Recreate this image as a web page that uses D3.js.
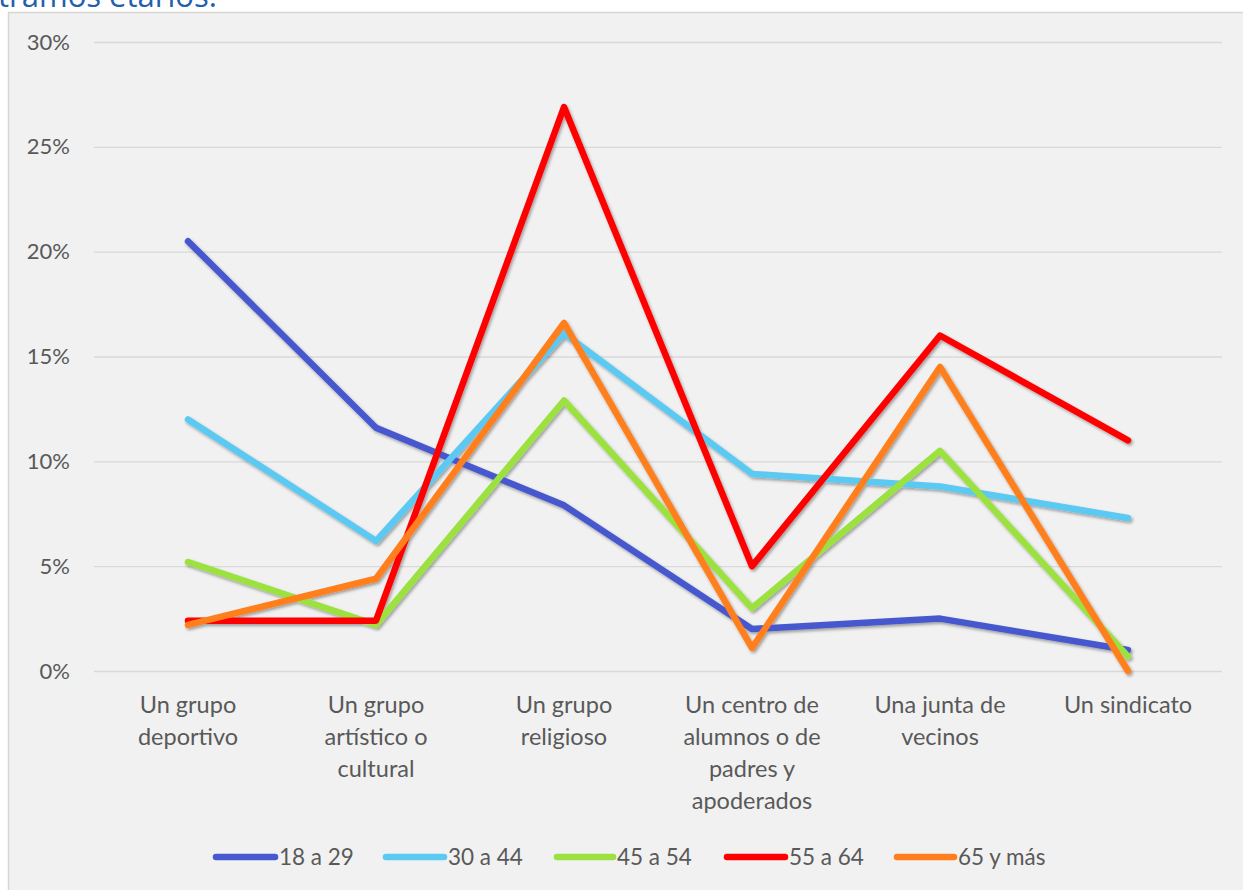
<!DOCTYPE html>
<html>
<head>
<meta charset="utf-8">
<script src="https://cdn.jsdelivr.net/npm/d3@7"></script>
<style>
  html, body { margin: 0; padding: 0; background: #ffffff; }
  svg { display: block; }
</style>
</head>
<body>
<svg id="chart" width="1243" height="890"></svg>
<script>
// Participation by type of organisation and age group (share of respondents)
const categories = [
  ["Un grupo", "deportivo"],
  ["Un grupo", "artístico o", "cultural"],
  ["Un grupo", "religioso"],
  ["Un centro de", "alumnos o de", "padres y", "apoderados"],
  ["Una junta de", "vecinos"],
  ["Un sindicato"]
];
const seriesNames = ["18 a 29", "30 a 44", "45 a 54", "55 a 64", "65 y más"];
const seriesColors = ["#4659cf", "#5bc9f2", "#9be13f", "#ff0000", "#ff7f1e"];
const v18a29 = [20.5, 11.6, 7.9, 2.0, 2.5, 1.0];
const v30a44 = [12.0, 6.2, 16.1, 9.4, 8.8, 7.3];
const v45a54 = [5.2, 2.2, 12.9, 3.0, 10.5, 0.7];
const v55a64 = [2.4, 2.4, 26.9, 5.0, 16.0, 11.0];
const v65mas = [2.2, 4.4, 16.6, 1.1, 14.5, 0.0];
const seriesValues = [v18a29, v30a44, v45a54, v55a64, v65mas];
const yTicks = [0, 5, 10, 15, 20, 25, 30];

const svg = d3.select("#chart");
const W = 1243, H = 890;
const font = "Lato, 'Open Sans', sans-serif";
const textGray = "#595959";

// heading text running off the top edge
svg.append("text")
  .attr("x", -2).attr("y", 7)
  .attr("font-family", "'Open Sans', sans-serif")
  .attr("font-size", 31)
  .attr("fill", "#2160ab")
  .text("tramos etarios.");

// chart panel
svg.append("rect")
  .attr("x", 8.5).attr("y", 12.5)
  .attr("width", W + 10).attr("height", H + 10)
  .attr("fill", "#f1f1f1")
  .attr("stroke", "#d6d6d6")
  .attr("stroke-width", 1.5);

const plot = { left: 94, right: 1222, top: 42, bottom: 671 };

const x = d3.scaleBand()
  .domain(d3.range(categories.length))
  .range([plot.left, plot.right]);
const xc = i => x(i) + x.bandwidth() / 2;

const y = d3.scaleLinear()
  .domain([0, 30])
  .range([plot.bottom, plot.top]);

// gridlines and y labels
const yAxis = d3.axisLeft(y)
  .tickValues(yTicks)
  .tickSize(-(plot.right - plot.left))
  .tickPadding(24)
  .tickFormat(d => d + "%");
const gy = svg.append("g")
  .attr("transform", `translate(${plot.left},0)`)
  .call(yAxis);
gy.select(".domain").remove();
gy.selectAll(".tick line").attr("stroke", "#d9d9d9").attr("stroke-width", 1.3);
gy.selectAll(".tick text")
  .attr("font-family", font)
  .attr("font-size", 22)
  .attr("fill", textGray);

// category labels
const xAxis = svg.append("g");
categories.forEach((lines, i) => {
  const t = xAxis.append("text")
    .attr("text-anchor", "middle")
    .attr("font-family", font)
    .attr("font-size", 23.5)
    .attr("fill", textGray);
  lines.forEach((ln, k) => {
    t.append("tspan")
      .attr("x", xc(i))
      .attr("y", 713 + k * 32)
      .text(ln);
  });
});

// soft shadow under the lines
const defs = svg.append("defs");
const f = defs.append("filter").attr("id", "shadow")
  .attr("x", "-10%").attr("y", "-10%").attr("width", "120%").attr("height", "120%");
f.append("feDropShadow")
  .attr("dx", 1.5).attr("dy", 2)
  .attr("stdDeviation", 1.6)
  .attr("flood-color", "#000").attr("flood-opacity", 0.35);

const line = d3.line()
  .x((d, i) => xc(i))
  .y(d => y(d));

const lines = svg.append("g").attr("filter", "url(#shadow)");
seriesValues.forEach((vals, s) => {
  lines.append("path")
    .datum(vals)
    .attr("d", line)
    .attr("fill", "none")
    .attr("stroke", seriesColors[s])
    .attr("stroke-width", 6.5)
    .attr("stroke-linejoin", "round")
    .attr("stroke-linecap", "round");
});

// legend
const legendItems = [
  { x0: 216, x1: 275 },
  { x0: 386, x1: 444 },
  { x0: 557, x1: 613 },
  { x0: 727, x1: 785 },
  { x0: 897, x1: 954 }
];
const legend = svg.append("g");
seriesNames.forEach((name, s) => {
  const it = legendItems[s];
  legend.append("line")
    .attr("x1", it.x0).attr("x2", it.x1)
    .attr("y1", 857).attr("y2", 857)
    .attr("stroke", seriesColors[s])
    .attr("stroke-width", 6.5)
    .attr("stroke-linecap", "round");
  legend.append("text")
    .attr("x", it.x1 + 4).attr("y", 865)
    .attr("font-family", font)
    .attr("font-size", 22.5)
    .attr("fill", textGray)
    .text(name);
});
</script>
</body>
</html>
